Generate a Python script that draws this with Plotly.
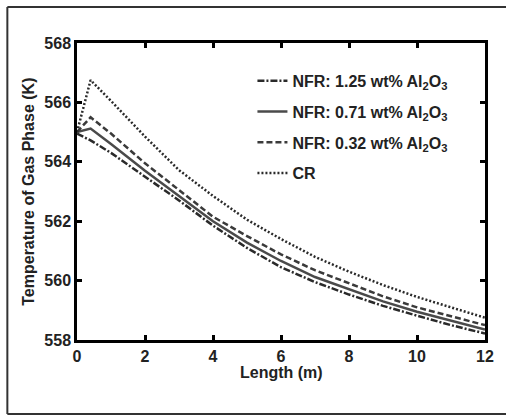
import plotly.graph_objects as go

length_m = [0, 0.4, 1, 2, 3, 4, 5, 6, 7, 8, 9, 10, 11, 12]

nfr_125 = [564.95, 564.72, 564.3, 563.5, 562.7, 561.85, 561.1, 560.45, 559.95, 559.53, 559.15, 558.82, 558.5, 558.22]
nfr_071 = [565.0, 565.12, 564.6, 563.7, 562.85, 562.0, 561.28, 560.66, 560.12, 559.7, 559.3, 558.95, 558.65, 558.35]
nfr_032 = [565.0, 565.5, 564.95, 563.95, 563.05, 562.15, 561.5, 560.88, 560.35, 559.9, 559.47, 559.1, 558.8, 558.5]
cr = [565.0, 566.75, 566.05, 564.85, 563.72, 562.85, 562.05, 561.4, 560.8, 560.3, 559.85, 559.45, 559.1, 558.75]

series_names = [
    "NFR: 1.25 wt% Al<sub>2</sub>O<sub>3</sub>",
    "NFR: 0.71 wt% Al<sub>2</sub>O<sub>3</sub>",
    "NFR: 0.32 wt% Al<sub>2</sub>O<sub>3</sub>",
    "CR",
]
series_values = [nfr_125, nfr_071, nfr_032, cr]
dashes = ["7px,2px,2px,2px", "solid", "6px,3px", "2px,2px"]
colors = ["#2a2a2a", "#4a4a4a", "#3a3a3a", "#2a2a2a"]

x_ticks = [0, 2, 4, 6, 8, 10, 12]
y_ticks = [558, 560, 562, 564, 566, 568]

FONT = "Liberation Sans, Arial, sans-serif"
TXT = dict(family=FONT, size=16, color="#222", weight="bold")

fig = go.Figure()
for i, (name, vals, d, c) in enumerate(zip(series_names, series_values, dashes, colors)):
    fig.add_trace(go.Scatter(
        x=length_m, y=vals, mode="lines", name=name,
        legendgroup=f"g{i}",
        line=dict(color=c, width=2.5, dash=d),
    ))

axis_common = dict(
    showline=True, linecolor="black", linewidth=2.5, mirror="ticks",
    ticks="inside", ticklen=5, tickwidth=2.5, tickcolor="black",
    showgrid=False, zeroline=False,
    tickfont=TXT,
)

frame = dict(color="#333", width=2)
fig.update_layout(
    width=506, height=416,
    margin=dict(l=77, r=19, t=43, b=76),
    paper_bgcolor="white", plot_bgcolor="white",
    showlegend=True,
    legend=dict(
        x=0.43, y=0.93, xanchor="left", yanchor="top",
        bgcolor="rgba(0,0,0,0)", borderwidth=0,
        font=TXT,
        tracegroupgap=7, itemwidth=30,
    ),
    xaxis=dict(range=[0, 12], tickvals=x_ticks, **axis_common),
    yaxis=dict(range=[558, 568], tickvals=y_ticks, **axis_common),
    annotations=[
        dict(text="Length (m)", xref="paper", yref="paper", x=0.5, y=-0.111,
             xanchor="center", yanchor="middle", showarrow=False, font=TXT),
        dict(text="Temperature of Gas Phase (K)", xref="paper", yref="paper",
             x=-0.1195, y=0.5, xanchor="center", yanchor="middle",
             textangle=-90, showarrow=False, font=TXT),
    ],
    shapes=[
        dict(type="line", xref="paper", yref="paper", x0=-0.1707, x1=-0.1707,
             y0=-0.2492, y1=1.1212, line=frame, layer="below"),
        dict(type="line", xref="paper", yref="paper", x0=-0.1707, x1=1.1,
             y0=1.1212, y1=1.1212, line=frame, layer="below"),
        dict(type="line", xref="paper", yref="paper", x0=-0.1707, x1=1.1,
             y0=-0.2492, y1=-0.2492, line=frame, layer="below"),
    ],
)

fig.write_html(
    "out.html",
    config={"displayModeBar": False},
    post_script="document.body.style.margin='0';"
                "document.documentElement.style.overflow='hidden';"
                "document.body.style.overflow='hidden';",
)
